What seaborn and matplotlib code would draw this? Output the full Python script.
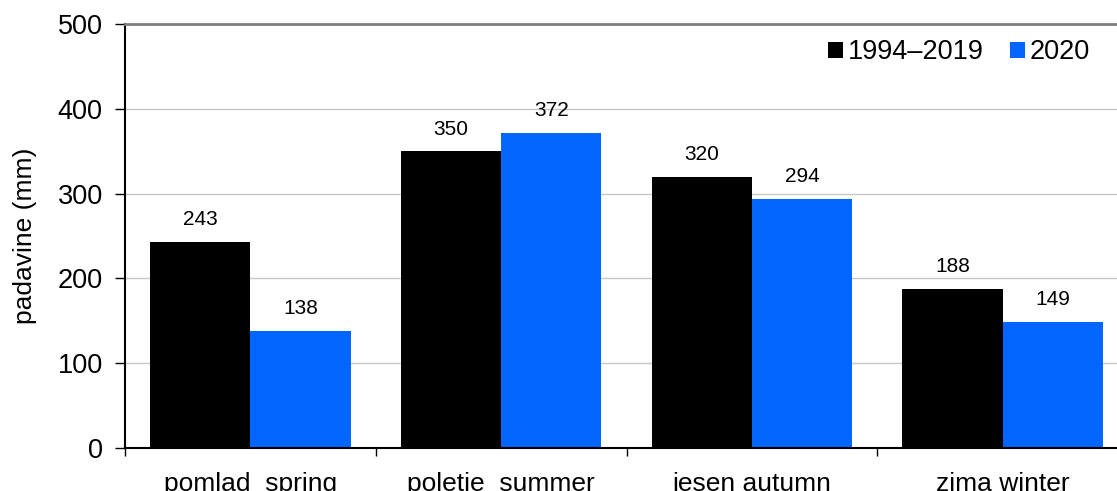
import seaborn as sns
import matplotlib.pyplot as plt
import pandas as pd

# seasonal precipitation, long-term mean vs 2020
seasons = ['pomlad  spring', 'poletje  summer', 'jesen autumn', 'zima winter']
periods = ['1994–2019', '2020']
mean_1994_2019 = [243, 350, 320, 188]
year_2020 = [138, 372, 294, 149]
colors = ['#000000', '#0066FF']

df = pd.DataFrame({
    'season': seasons * 2,
    'period': [periods[0]] * 4 + [periods[1]] * 4,
    'padavine': mean_1994_2019 + year_2020,
})

sns.set_style('white')
plt.rcParams['font.family'] = ['Liberation Sans', 'DejaVu Sans']
plt.rcParams['text.color'] = 'black'
plt.rcParams['axes.labelcolor'] = 'black'
plt.rcParams['xtick.color'] = 'black'
plt.rcParams['ytick.color'] = 'black'

fig = plt.figure(figsize=(11.17, 4.91), dpi=100)
ax = fig.add_axes([125 / 1117, 43 / 491, 1003 / 1117, 424 / 491])

sns.barplot(data=df, x='season', y='padavine', hue='period', palette=colors,
            saturation=1, width=0.8, order=seasons, hue_order=periods, ax=ax,
            errorbar=None, linewidth=0)

for cont in ax.containers:
    ax.bar_label(cont, fmt='%d', padding=9, fontsize=15, color='black')

ax.set_ylim(0, 500)
ax.set_xlim(-0.5, 3.5)
ax.set_yticks(range(0, 501, 100))
ax.yaxis.grid(True, color='#c8c8c8', linewidth=1)
ax.set_axisbelow(True)

# group labels centred, ticks at group boundaries
ax.set_xticks([0, 1, 2, 3])
ax.set_xticklabels(seasons, fontsize=19)
ax.tick_params(axis='x', length=0, pad=17)
ax.set_xticks([-0.5, 0.5, 1.5, 2.5], minor=True)
ax.tick_params(axis='x', which='minor', length=6, width=1, color='black', direction='out')
ax.tick_params(axis='y', length=7, width=1, color='black', direction='out',
               labelsize=19.5, pad=9)
ax.yaxis.set_tick_params(which='major', left=True)
ax.xaxis.set_tick_params(which='minor', bottom=True)

ax.set_xlabel('')
ax.set_ylabel('padavine (mm)', fontsize=19, labelpad=15)

for s in ['left', 'bottom']:
    ax.spines[s].set_color('black')
    ax.spines[s].set_linewidth(1.5)
ax.spines['top'].set_color('#808080')
ax.spines['top'].set_linewidth(2)
ax.spines['right'].set_visible(False)

ax.legend(loc='upper right', bbox_to_anchor=(1114 / 1117, 476 / 491),
          bbox_transform=fig.transFigure, ncol=2, frameon=False,
          fontsize=19.5, handlelength=0.55, handleheight=0.55, handletextpad=0.15,
          columnspacing=1.0, title=None)

fig.savefig('out.png', dpi=100)
